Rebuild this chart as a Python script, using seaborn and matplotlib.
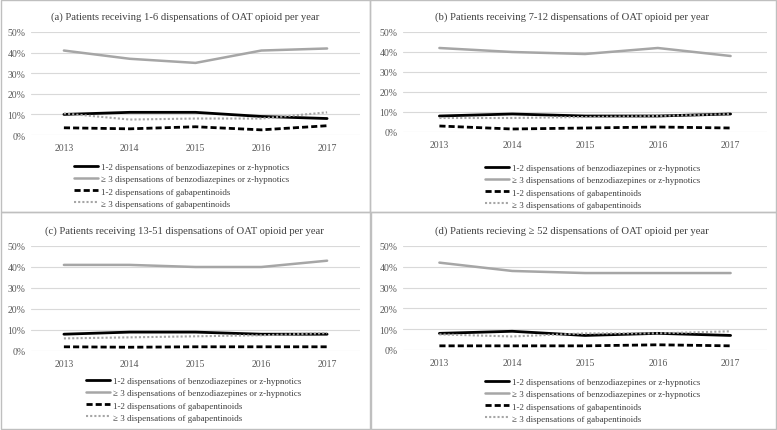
import pandas as pd
import numpy as np
import matplotlib
matplotlib.use('Agg')
import matplotlib.pyplot as plt
from matplotlib.patches import Rectangle
import seaborn as sns

# Data (percent of patients)
years = [2013, 2014, 2015, 2016, 2017]
series_names = ['1-2 dispensations of benzodiazepines or z-hypnotics',
                '\u2265 3 dispensations of benzodiazepines or z-hypnotics',
                '1-2 dispensations of gabapentinoids',
                '\u2265 3 dispensations of gabapentinoids']
titles = ['(a) Patients receiving 1-6 dispensations of OAT opioid per year',
          '(b) Patients receiving 7-12 dispensations of OAT opioid per year',
          '(c) Patients receiving 13-51 dispensations of OAT opioid per year',
          '(d) Patients recieving \u2265 52 dispensations of OAT opioid per year']

a_benzo12 = [10, 11, 11, 9, 8]
a_benzo3 = [41, 37, 35, 41, 42]
a_gaba12 = [3.5, 3, 4, 2.5, 4.5]
a_gaba3 = [10.5, 7.5, 8, 8, 11]

b_benzo12 = [8, 9, 8, 8, 9]
b_benzo3 = [42, 40, 39, 42, 38]
b_gaba12 = [3, 1.5, 2, 2.5, 2]
b_gaba3 = [7, 7, 7.5, 8, 9]

c_benzo12 = [8, 9, 9, 8, 8]
c_benzo3 = [41, 41, 40, 40, 43]
c_gaba12 = [2, 1.8, 2, 2, 2]
c_gaba3 = [6, 6.5, 7, 7.5, 8.5]

d_benzo12 = [8, 9, 7, 8, 7]
d_benzo3 = [42, 38, 37, 37, 37]
d_gaba12 = [2, 2, 2, 2.5, 2]
d_gaba3 = [7.5, 6.5, 8, 8, 9]

panels = [
    [a_benzo12, a_benzo3, a_gaba12, a_gaba3],
    [b_benzo12, b_benzo3, b_gaba12, b_gaba3],
    [c_benzo12, c_benzo3, c_gaba12, c_gaba3],
    [d_benzo12, d_benzo3, d_gaba12, d_gaba3],
]

sns.set_style('white')
plt.rcParams['font.family'] = ['Liberation Serif', 'DejaVu Serif']

W, H = 777, 431
fig = plt.figure(figsize=(W / 100, H / 100), dpi=100)

# pixel layouts: (x0, x1, y_top(50%), y_bottom(0%)), title center/y, legend anchor
layouts = [
    dict(ax=(31, 360, 33, 136), title=(185, 17), leg=(74, 164)),
    dict(ax=(403, 767, 33, 133), title=(572, 17), leg=(485, 165)),
    dict(ax=(31, 360, 247, 352), title=(184, 231), leg=(86, 378)),
    dict(ax=(403, 767, 247, 351), title=(572, 231), leg=(485, 379)),
]

styles = [
    dict(color='black', lw=2.0, ls='-'),
    dict(color='#a6a6a6', lw=1.8, ls='-'),
    dict(color='black', lw=2.0, ls=(0, (2.2, 1.1))),
    dict(color='#a6a6a6', lw=1.5, ls=(0, (1, 1))),
]

# panel borders
boxes = [(0.5, 0.5, 370, 213), (370, 0.5, 776, 213), (0.5, 213, 370, 430), (371, 213, 776, 430)]
for x0, y0, x1, y1 in boxes:
    fig.add_artist(Rectangle((x0 / W, 1 - y1 / H), (x1 - x0) / W, (y1 - y0) / H,
                             transform=fig.transFigure, fill=False,
                             edgecolor='#bfbfbf', lw=1.0))

for vals, lay, title in zip(panels, layouts, titles):
    x0, x1, yt, yb = lay['ax']
    ax = fig.add_axes([x0 / W, 1 - yb / H, (x1 - x0) / W, (yb - yt) / H])
    df = pd.DataFrame({'year': years * 4,
                       'value': sum(vals, []),
                       'series': np.repeat(series_names, len(years))})
    for name, st in zip(series_names, styles):
        sub = df[df['series'] == name]
        sns.lineplot(data=sub, x='year', y='value', ax=ax, label=name,
                     color=st['color'], lw=st['lw'], linestyle=st['ls'])
    ax.set_xlim(2012.5, 2017.5)
    ax.set_ylim(0, 50)
    ax.set_yticks([0, 10, 20, 30, 40, 50])
    ax.set_yticklabels([f'{v}%' for v in range(0, 60, 10)])
    ax.set_xticks(years)
    ax.set_xticklabels([str(y) for y in years])
    ax.tick_params(axis='both', labelsize=7, length=0, colors='#595959')
    ax.tick_params(axis='y', pad=4)
    ax.tick_params(axis='x', pad=6)
    ax.yaxis.grid(True, color='#d9d9d9', lw=0.8)
    ax.set_axisbelow(True)
    for s in ax.spines.values():
        s.set_visible(False)
    ax.set_xlabel('')
    ax.set_ylabel('')
    tx, ty = lay['title']
    fig.text(tx / W, 1 - ty / H, title, ha='center', va='center',
             fontsize=7.7, color='#404040')
    lx, ly = lay['leg']
    leg = ax.legend(loc='upper left', bbox_to_anchor=(lx / W, 1 - ly / H),
                    bbox_transform=fig.transFigure, frameon=False,
                    fontsize=6.5, handlelength=2.7, handletextpad=0.3,
                    labelspacing=0.42, borderaxespad=0, borderpad=0)
    for t in leg.get_texts():
        t.set_color('#404040')

fig.savefig('out.png', dpi=100)
